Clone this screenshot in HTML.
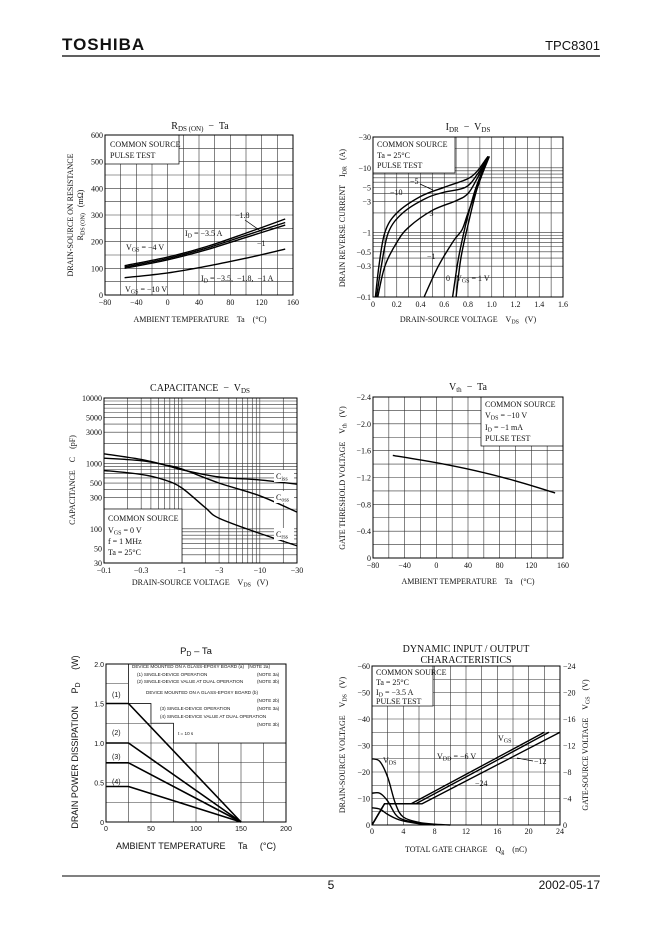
<!DOCTYPE html>
<html><head><meta charset="utf-8">
<style>
html,body{margin:0;padding:0;background:#fff;}
svg{display:block;}
text{white-space:pre;}
.s{font-family:"Liberation Serif",serif;font-size:8px;fill:#111;}
.ss{font-family:"Liberation Sans",sans-serif;fill:#111;}
.t{font-family:"Liberation Serif",serif;font-size:10px;fill:#111;}
</style></head>
<body>
<svg id="page" width="662" height="936" viewBox="0 0 662 936" xmlns="http://www.w3.org/2000/svg">
<rect width="662" height="936" fill="#fff"/>
<text x="62" y="50" class="ss" font-size="17" font-weight="bold" letter-spacing="1">TOSHIBA</text>
<text x="600" y="50" class="ss" font-size="13" text-anchor="end">TPC8301</text>
<line x1="62" y1="56" x2="600" y2="56" stroke="#000" stroke-width="1.2"/>
<line x1="62" y1="876" x2="600" y2="876" stroke="#000" stroke-width="1"/>
<text x="331" y="889" class="ss" font-size="12" text-anchor="middle">5</text>
<text x="600" y="889" class="ss" font-size="12" text-anchor="end">2002-05-17</text>

<g id="layer"></g>

<text x="200" y="129" class="t" text-anchor="middle">R<tspan font-size="7" dy="2">DS (ON)</tspan><tspan dy="-2">  −  Ta</tspan></text>
<text x="200" y="322" class="s" font-size="7.5" text-anchor="middle">AMBIENT TEMPERATURE    Ta    (°C)</text>
<text class="s" font-size="7.5" text-anchor="middle" transform="translate(73,215) rotate(-90)">DRAIN-SOURCE ON RESISTANCE</text>
<text class="s" font-size="7.5" text-anchor="middle" transform="translate(83,215) rotate(-90)">R<tspan font-size="6" dy="1.5">DS (ON)</tspan><tspan dy="-1.5">   (mΩ)</tspan></text>

<text x="468" y="130" class="t" text-anchor="middle">I<tspan font-size="7" dy="2">DR</tspan><tspan dy="-2">  −  V</tspan><tspan font-size="7" dy="2">DS</tspan></text>
<text x="468" y="322" class="s" font-size="7.5" text-anchor="middle">DRAIN-SOURCE VOLTAGE    V<tspan font-size="6" dy="1.5">DS</tspan><tspan dy="-1.5">   (V)</tspan></text>
<text class="s" font-size="7.5" text-anchor="middle" transform="translate(345,218) rotate(-90)">DRAIN REVERSE CURRENT    I<tspan font-size="6" dy="1.5">DR</tspan><tspan dy="-1.5">   (A)</tspan></text>

<text x="200" y="391" class="t" text-anchor="middle">CAPACITANCE  −  V<tspan font-size="7" dy="2">DS</tspan></text>
<text x="200" y="585" class="s" font-size="7.5" text-anchor="middle">DRAIN-SOURCE VOLTAGE    V<tspan font-size="6" dy="1.5">DS</tspan><tspan dy="-1.5">   (V)</tspan></text>
<text class="s" font-size="7.5" text-anchor="middle" transform="translate(75,480) rotate(-90)">CAPACITANCE    C    (pF)</text>

<text x="468" y="390" class="t" text-anchor="middle">V<tspan font-size="7" dy="2">th</tspan><tspan dy="-2">  −  Ta</tspan></text>
<text x="468" y="584" class="s" font-size="7.5" text-anchor="middle">AMBIENT TEMPERATURE    Ta    (°C)</text>
<text class="s" font-size="7.5" text-anchor="middle" transform="translate(345,478) rotate(-90)">GATE THRESHOLD VOLTAGE    V<tspan font-size="6" dy="1.5">th</tspan><tspan dy="-1.5">   (V)</tspan></text>

<text x="196" y="654" class="ss" font-size="9.5" text-anchor="middle">P<tspan font-size="7" dy="2">D</tspan><tspan dy="-2"> – Ta</tspan></text>
<text x="196" y="849" class="ss" font-size="9" text-anchor="middle">AMBIENT TEMPERATURE     Ta     (°C)</text>
<text class="ss" font-size="9" text-anchor="middle" transform="translate(78,742) rotate(-90)">DRAIN POWER DISSIPATION     P<tspan font-size="7" dy="2">D</tspan><tspan dy="-2">     (W)</tspan></text>

<text x="466" y="652" class="t" text-anchor="middle">DYNAMIC INPUT / OUTPUT</text>
<text x="466" y="663" class="t" text-anchor="middle">CHARACTERISTICS</text>
<text x="466" y="852" class="s" font-size="7.5" text-anchor="middle">TOTAL GATE CHARGE    Q<tspan font-size="6" dy="1.5">g</tspan><tspan dy="-1.5">    (nC)</tspan></text>
<text class="s" font-size="7.5" text-anchor="middle" transform="translate(345,745) rotate(-90)">DRAIN-SOURCE VOLTAGE    V<tspan font-size="6" dy="1.5">DS</tspan><tspan dy="-1.5">   (V)</tspan></text>
<text class="s" font-size="7.5" text-anchor="middle" transform="translate(588,745) rotate(-90)">GATE-SOURCE VOLTAGE    V<tspan font-size="6" dy="1.5">GS</tspan><tspan dy="-1.5">   (V)</tspan></text>
</svg>

<script>
const c1Temps = [-55, 0, 50, 100, 150];
const c1Vgs4Id35 = [110, 142, 182, 232, 285];
const c1Vgs4Id18 = [105, 137, 176, 224, 272];
const c1Vgs4Id1 = [100, 132, 170, 216, 262];
const c1Vgs10 = [65, 83, 108, 138, 172];
const c1XTicks = [-80, -40, 0, 40, 80, 120, 160];
const c1YTicks = [0, 100, 200, 300, 400, 500, 600];

const c2Vds10 = [0.02, 0.05, 0.1, 0.2, 0.4, 0.6, 0.8, 0.88, 0.95, 0.97];
const c2Idr10 = [0.1, 0.3, 1, 2, 3.6, 5, 6.8, 9, 13.5, 15];
const c2Vds5 = [0.03, 0.07, 0.13, 0.25, 0.45, 0.6, 0.78, 0.88, 0.97];
const c2Idr5 = [0.1, 0.3, 1, 2, 3.4, 4.2, 5, 8, 15];
const c2Vds3 = [0.04, 0.1, 0.2, 0.3, 0.5, 0.7, 0.8, 0.88, 0.97];
const c2Idr3 = [0.1, 0.3, 0.7, 1.2, 2.2, 3.1, 4, 7, 15];
const c2Vds1 = [0.43, 0.55, 0.68, 0.75, 0.8, 0.88, 0.97];
const c2Idr1 = [0.1, 0.3, 0.75, 1.1, 2, 5, 15];
const c2Vds0 = [0.67, 0.72, 0.78, 0.86, 0.97];
const c2Idr0 = [0.1, 0.4, 1.3, 4.5, 15];
const c2VdsP1 = [0.7, 0.74, 0.8, 0.88, 0.98];
const c2IdrP1 = [0.1, 0.4, 1.3, 5, 15];
const c2XTicks = [0, 0.2, 0.4, 0.6, 0.8, 1.0, 1.2, 1.4, 1.6];
const c2XLabels = ["0", "0.2", "0.4", "0.6", "0.8", "1.0", "1.2", "1.4", "1.6"];
const c2YTicks = [30, 10, 5, 3, 1, 0.5, 0.3, 0.1];
const c2YLabels = ["−30", "−10", "−5", "−3", "−1", "−0.5", "−0.3", "−0.1"];

const c3VdsCiss = [0.1, 0.3, 0.6, 1, 3, 10, 30];
const c3Ciss = [1400, 1150, 950, 800, 620, 560, 480];
const c3VdsCoss = [0.1, 0.3, 0.6, 1, 3, 10, 30];
const c3Coss = [1200, 1100, 950, 820, 500, 320, 180];
const c3VdsCrss = [0.1, 0.3, 0.6, 1, 2, 3, 10, 30];
const c3Crss = [780, 680, 560, 420, 210, 145, 85, 55];
const c3XTicks = [0.1, 0.3, 1, 3, 10, 30];
const c3XLabels = ["−0.1", "−0.3", "−1", "−3", "−10", "−30"];
const c3YTicks = [30, 50, 100, 300, 500, 1000, 3000, 5000, 10000];

const c4Temps = [-55, 0, 50, 100, 150];
const c4Vth = [1.53, 1.42, 1.30, 1.15, 0.97];
const c4XTicks = [-80, -40, 0, 40, 80, 120, 160];
const c4YTicks = [0, 0.4, 0.8, 1.2, 1.6, 2.0, 2.4];
const c4YLabels = ["0", "−0.4", "−0.8", "−1.2", "−1.6", "−2.0", "−2.4"];

const c5Ta = [0, 25, 150];
const c5Pd1 = [1.5, 1.5, 0];
const c5Pd2 = [1.0, 1.0, 0];
const c5Pd3 = [0.75, 0.75, 0];
const c5Pd4 = [0.45, 0.45, 0];
const c5XTicks = [0, 50, 100, 150, 200];
const c5YTicks = [0, 0.5, 1.0, 1.5, 2.0];
const c5YLabels = ["0", "0.5", "1.0", "1.5", "2.0"];

const c6QgVds24 = [0, 1, 2, 3, 4, 6, 8, 10];
const c6Vds24 = [25, 24, 18, 8, 3, 1, 0.3, 0];
const c6QgVds12 = [0, 1, 2, 3, 4, 6, 8];
const c6Vds12 = [12, 12, 9, 4, 2, 0.7, 0];
const c6QgVds6 = [0, 1, 2, 3, 4, 6, 8];
const c6Vds6 = [6.5, 6, 4, 2.5, 1.5, 0.5, 0];
const c6QgVgs6 = [0, 1.6, 5, 22];
const c6Vgs6 = [0, 3.2, 3.2, 14];
const c6QgVgs12 = [0, 1.6, 5.6, 22.6];
const c6Vgs12 = [0, 3.2, 3.2, 14];
const c6QgVgs24 = [0, 1.6, 6.4, 24];
const c6Vgs24 = [0, 3.2, 3.2, 14];
const c6XTicks = [0, 4, 8, 12, 16, 20, 24];
const c6YTicks = [0, 10, 20, 30, 40, 50, 60];
const c6Y2Ticks = [0, 4, 8, 12, 16, 20, 24];

const NS = "http://www.w3.org/2000/svg";
const layer = document.getElementById("layer");

function el(tag, attrs, name, parent) {
  const e = document.createElementNS(NS, tag);
  for (const k in attrs) e.setAttribute(k, attrs[k]);
  
  
  (parent || layer).appendChild(e);
  return e;
}
function txt(x, y, s, name, anchor, cls, size) {
  const e = el("text", {x: x, y: y, "text-anchor": anchor || "start", "class": cls || "s"}, name);
  if (size) e.setAttribute("font-size", size);
  e.textContent = s;
  return e;
}
function lin(d0, d1, r0, r1) { return v => r0 + (v - d0) / (d1 - d0) * (r1 - r0); }
function lg(d0, d1, r0, r1) { const a = Math.log10(d0), b = Math.log10(d1); return v => r0 + (Math.log10(v) - a) / (b - a) * (r1 - r0); }
function smooth(p) {
  let d = "M" + p[0][0].toFixed(1) + "," + p[0][1].toFixed(1);
  for (let i = 0; i < p.length - 1; i++) {
    const p0 = p[i - 1] || p[i], p1 = p[i], p2 = p[i + 1], p3 = p[i + 2] || p2;
    const c1x = p1[0] + (p2[0] - p0[0]) / 6, c1y = p1[1] + (p2[1] - p0[1]) / 6;
    const c2x = p2[0] - (p3[0] - p1[0]) / 6, c2y = p2[1] - (p3[1] - p1[1]) / 6;
    d += " C" + c1x.toFixed(1) + "," + c1y.toFixed(1) + " " + c2x.toFixed(1) + "," + c2y.toFixed(1) + " " + p2[0].toFixed(1) + "," + p2[1].toFixed(1);
  }
  return d;
}
function curve(xs, ys, sx, sy, name, sm, w) {
  const pts = xs.map((x, i) => [sx(x), sy(ys[i])]);
  const d = sm === false ? "M" + pts.map(p => p[0].toFixed(1) + "," + p[1].toFixed(1)).join(" L") : smooth(pts);
  el("path", {d: d, fill: "none", stroke: "#000", "stroke-width": w || 1.4, "stroke-linejoin": "round"}, name);
}
function vgrid(vals, sx, y0, y1, name) { vals.forEach(v => el("line", {x1: sx(v), y1: y0, x2: sx(v), y2: y1, stroke: "#333", "stroke-width": 0.6}, name)); }
function hgrid(vals, sy, x0, x1, name) { vals.forEach(v => el("line", {x1: x0, y1: sy(v), x2: x1, y2: sy(v), stroke: "#333", "stroke-width": 0.6}, name)); }
function frame(x0, y0, x1, y1, name) { el("rect", {x: x0, y: y0, width: x1 - x0, height: y1 - y0, fill: "none", stroke: "#000", "stroke-width": 1}, name); }
function box(x, y, w, h, name) { el("rect", {x: x, y: y, width: w, height: h, fill: "#fff", stroke: "#000", "stroke-width": 0.7}, name); }
function range(a, b, s) { const r = []; for (let v = a; v <= b + 1e-9; v += s) r.push(+v.toFixed(6)); return r; }
function logMinor(d0, d1) { const r = []; for (let e = Math.floor(Math.log10(d0)); e <= Math.ceil(Math.log10(d1)); e++) for (let m = 1; m <= 9; m++) { const v = m * Math.pow(10, e); if (v >= d0 * 0.999 && v <= d1 * 1.001) r.push(v); } return r; }
function fmtNeg(v) { return v === 0 ? "0" : (v < 0 ? "−" + Math.abs(v) : "" + v); }

(function () {
  const X0 = 105, X1 = 293, Y0 = 135, Y1 = 295;
  const sx = lin(-80, 160, X0, X1), sy = lin(0, 600, Y1, Y0);
  vgrid(range(-80, 160, 20), sx, Y0, Y1, "c1-grid-x");
  hgrid(range(0, 600, 50), sy, X0, X1, "c1-grid-y");
  box(X0, Y0, 74, 29, "c1-note-box");
  txt(110, 147, "COMMON SOURCE", "c1-note-1");
  txt(110, 158, "PULSE TEST", "c1-note-2");
  frame(X0, Y0, X1, Y1, "c1-frame");
  c1XTicks.forEach(v => txt(sx(v), Y1 + 10, fmtNeg(v), "c1-x-tick", "middle"));
  c1YTicks.forEach(v => txt(X0 - 2, sy(v) + 3, "" + v, "c1-y-tick", "end"));
  curve(c1Temps, c1Vgs4Id35, sx, sy, "c1-curve-vgs4-id3.5");
  curve(c1Temps, c1Vgs4Id18, sx, sy, "c1-curve-vgs4-id1.8");
  curve(c1Temps, c1Vgs4Id1, sx, sy, "c1-curve-vgs4-id1");
  curve(c1Temps, c1Vgs10, sx, sy, "c1-curve-vgs10");
  el("line", {x1: 245, y1: 220, x2: 262, y2: 232, stroke: "#000", "stroke-width": 0.7}, "c1-arrow");
  txt(235, 218, "−1.8", "c1-label-1.8");
  txt(185, 236, "I", "c1-label-id").innerHTML = 'I<tspan font-size="6" dy="1.5">D</tspan><tspan dy="-1.5"> = −3.5 A</tspan>';
  txt(257, 246, "−1", "c1-label-1");
  txt(126, 250, "V", "c1-label-vgs4").innerHTML = 'V<tspan font-size="6" dy="1.5">GS</tspan><tspan dy="-1.5"> = −4 V</tspan>';
  txt(201, 281, "I", "c1-label-id-all").innerHTML = 'I<tspan font-size="6" dy="1.5">D</tspan><tspan dy="-1.5"> = −3.5,  −1.8,  −1 A</tspan>';
  txt(125, 292, "V", "c1-label-vgs10").innerHTML = 'V<tspan font-size="6" dy="1.5">GS</tspan><tspan dy="-1.5"> = −10 V</tspan>';
})();

(function () {
  const X0 = 373, X1 = 563, Y0 = 137, Y1 = 297;
  const sx = lin(0, 1.6, X0, X1), sy = lg(0.1, 30, Y1, Y0);
  vgrid(range(0, 1.6, 0.1), sx, Y0, Y1, "c2-grid-x");
  hgrid(logMinor(0.1, 30), sy, X0, X1, "c2-grid-y");
  box(X0, Y0, 82, 36, "c2-note-box");
  txt(377, 147, "COMMON SOURCE", "c2-note-1");
  txt(377, 158, "Ta = 25°C", "c2-note-2");
  txt(377, 168, "PULSE TEST", "c2-note-3");
  frame(X0, Y0, X1, Y1, "c2-frame");
  c2XTicks.forEach((v, i) => txt(sx(v), Y1 + 10, c2XLabels[i], "c2-x-tick", "middle"));
  c2YTicks.forEach((v, i) => txt(X0 - 2, sy(v) + 3, c2YLabels[i], "c2-y-tick", "end"));
  curve(c2Vds10, c2Idr10, sx, sy, "c2-curve-vgs-10");
  curve(c2Vds5, c2Idr5, sx, sy, "c2-curve-vgs-5");
  curve(c2Vds3, c2Idr3, sx, sy, "c2-curve-vgs-3");
  curve(c2Vds1, c2Idr1, sx, sy, "c2-curve-vgs-1");
  curve(c2Vds0, c2Idr0, sx, sy, "c2-curve-vgs0");
  curve(c2VdsP1, c2IdrP1, sx, sy, "c2-curve-vgs1");
  el("line", {x1: 420, y1: 184, x2: 433, y2: 190, stroke: "#000", "stroke-width": 0.7}, "c2-arrow");
  txt(410, 184, "−5", "c2-label-5");
  txt(390, 195, "−10", "c2-label-10");
  txt(425, 216, "−3", "c2-label-3");
  txt(427, 259, "−1", "c2-label-1");
  txt(446, 281, "0", "c2-label-0");
  txt(456, 281, "V", "c2-label-vgs").innerHTML = 'V<tspan font-size="6" dy="1.5">GS</tspan><tspan dy="-1.5"> = 1 V</tspan>';
})();

(function () {
  const X0 = 104, X1 = 297, Y0 = 398, Y1 = 563;
  const sx = lg(0.1, 30, X0, X1), sy = lg(30, 10000, Y1, Y0);
  vgrid(logMinor(0.1, 30), sx, Y0, Y1, "c3-grid-x");
  hgrid(logMinor(30, 10000), sy, X0, X1, "c3-grid-y");
  box(X0, 509, 78, 54, "c3-note-box");
  txt(108, 521, "COMMON SOURCE", "c3-note-1");
  txt(108, 533, "V", "c3-note-2").innerHTML = 'V<tspan font-size="6" dy="1.5">GS</tspan><tspan dy="-1.5"> = 0 V</tspan>';
  txt(108, 544, "f = 1 MHz", "c3-note-3");
  txt(108, 555, "Ta = 25°C", "c3-note-4");
  frame(X0, Y0, X1, Y1, "c3-frame");
  c3XTicks.forEach((v, i) => txt(sx(v), Y1 + 10, c3XLabels[i], "c3-x-tick", "middle"));
  c3YTicks.forEach(v => txt(X0 - 2, sy(v) + 3, "" + v, "c3-y-tick", "end"));
  curve(c3VdsCiss, c3Ciss, sx, sy, "c3-curve-ciss");
  curve(c3VdsCoss, c3Coss, sx, sy, "c3-curve-coss");
  curve(c3VdsCrss, c3Crss, sx, sy, "c3-curve-crss");
  el("rect", {x: 274, y: 470, width: 20, height: 12, fill: "#fff"}, "c3-label-bg-ciss");
  txt(276, 479, "C", "c3-label-ciss").innerHTML = 'C<tspan font-size="6" dy="1.5">iss</tspan>';
  el("rect", {x: 274, y: 491, width: 20, height: 12, fill: "#fff"}, "c3-label-bg-coss");
  txt(276, 500, "C", "c3-label-coss").innerHTML = 'C<tspan font-size="6" dy="1.5">oss</tspan>';
  el("rect", {x: 274, y: 528, width: 20, height: 12, fill: "#fff"}, "c3-label-bg-crss");
  txt(276, 537, "C", "c3-label-crss").innerHTML = 'C<tspan font-size="6" dy="1.5">rss</tspan>';
})();

(function () {
  const X0 = 373, X1 = 563, Y0 = 397, Y1 = 558;
  const sx = lin(-80, 160, X0, X1), sy = lin(0, 2.4, Y1, Y0);
  vgrid(range(-80, 160, 20), sx, Y0, Y1, "c4-grid-x");
  hgrid(range(0, 2.4, 0.2), sy, X0, X1, "c4-grid-y");
  box(481, Y0, 82, 49, "c4-note-box");
  txt(485, 407, "COMMON SOURCE", "c4-note-1");
  txt(485, 418, "V", "c4-note-2").innerHTML = 'V<tspan font-size="6" dy="1.5">DS</tspan><tspan dy="-1.5"> = −10 V</tspan>';
  txt(485, 430, "I", "c4-note-3").innerHTML = 'I<tspan font-size="6" dy="1.5">D</tspan><tspan dy="-1.5"> = −1 mA</tspan>';
  txt(485, 441, "PULSE TEST", "c4-note-4");
  frame(X0, Y0, X1, Y1, "c4-frame");
  c4XTicks.forEach(v => txt(sx(v), Y1 + 10, fmtNeg(v), "c4-x-tick", "middle"));
  c4YTicks.forEach((v, i) => txt(X0 - 2, sy(v) + 3, c4YLabels[i], "c4-y-tick", "end"));
  curve(c4Temps, c4Vth, sx, sy, "c4-curve-vth");
})();

(function () {
  const X0 = 106, X1 = 286, Y0 = 664, Y1 = 822;
  const sx = lin(0, 200, X0, X1), sy = lin(0, 2.0, Y1, Y0);
  vgrid(range(0, 200, 25), sx, Y0, Y1, "c5-grid-x");
  hgrid(range(0, 2.0, 0.25), sy, X0, X1, "c5-grid-y");
  const st = [[25, 2.0], [25, 1.75], [25, 1.5], [50, 1.5], [50, 1.25], [75, 1.25], [75, 1.0], [200, 1.0], [200, 2.0]];
  el("polygon", {points: st.map(p => sx(p[0]) + "," + sy(p[1])).join(" "), fill: "#fff", stroke: "#000", "stroke-width": 0.7}, "c5-note-box");
  el("line", {x1: X0, y1: sy(1.75), x2: sx(25), y2: sy(1.75), stroke: "#333", "stroke-width": 0.6}, "c5-grid-step");
  frame(X0, Y0, X1, Y1, "c5-frame");
  const notes = [
    [132, 668, "DEVICE MOUNTED ON A GLASS-EPOXY BOARD (a)   (NOTE 2a)"],
    [137, 676, "(1) SINGLE-DEVICE OPERATION"], [257, 676, "(NOTE 3a)"],
    [137, 683, "(2) SINGLE-DEVICE VALUE AT DUAL OPERATION"], [257, 683, "(NOTE 3b)"],
    [146, 694, "DEVICE MOUNTED ON A GLASS-EPOXY BOARD (b)"],
    [257, 702, "(NOTE 2b)"],
    [160, 710, "(3) SINGLE-DEVICE OPERATION"], [257, 710, "(NOTE 3a)"],
    [160, 718, "(4) SINGLE-DEVICE VALUE AT DUAL OPERATION"],
    [257, 726, "(NOTE 3b)"],
    [178, 735, "t = 10 s"]
  ];
  notes.forEach(n => txt(n[0], n[1], n[2], "c5-note-text", "start", "ss", 4.6));
  c5XTicks.forEach(v => txt(sx(v), Y1 + 9, "" + v, "c5-x-tick", "middle", "ss", 7));
  c5YTicks.forEach((v, i) => txt(X0 - 2, sy(v) + 3, c5YLabels[i], "c5-y-tick", "end", "ss", 7));
  curve(c5Ta, c5Pd1, sx, sy, "c5-curve-1", false, 1.6);
  curve(c5Ta, c5Pd2, sx, sy, "c5-curve-2", false, 1.6);
  curve(c5Ta, c5Pd3, sx, sy, "c5-curve-3", false, 1.6);
  curve(c5Ta, c5Pd4, sx, sy, "c5-curve-4", false, 1.6);
  txt(112, 697, "(1)", "c5-label-1", "start", "ss", 7);
  txt(112, 735, "(2)", "c5-label-2", "start", "ss", 7);
  txt(112, 759, "(3)", "c5-label-3", "start", "ss", 7);
  txt(112, 784, "(4)", "c5-label-4", "start", "ss", 7);
})();

(function () {
  const X0 = 372, X1 = 560, Y0 = 666, Y1 = 825;
  const sx = lin(0, 24, X0, X1), sy = lin(0, 60, Y1, Y0), sy2 = lin(0, 24, Y1, Y0);
  vgrid(range(0, 24, 2), sx, Y0, Y1, "c6-grid-x");
  hgrid(range(0, 60, 5), sy, X0, X1, "c6-grid-y");
  box(X0, Y0, 61, 40, "c6-note-box");
  txt(376, 675, "COMMON SOURCE", "c6-note-1");
  txt(376, 685, "Ta = 25°C", "c6-note-2");
  txt(376, 695, "I", "c6-note-3").innerHTML = 'I<tspan font-size="6" dy="1.5">D</tspan><tspan dy="-1.5"> = −3.5 A</tspan>';
  txt(376, 704, "PULSE TEST", "c6-note-4");
  frame(X0, Y0, X1, Y1, "c6-frame");
  c6XTicks.forEach(v => txt(sx(v), Y1 + 9, "" + v, "c6-x-tick", "middle"));
  c6YTicks.forEach(v => txt(X0 - 2, sy(v) + 3, fmtNeg(-v), "c6-y-tick-left", "end"));
  c6Y2Ticks.forEach(v => txt(X1 + 3, sy2(v) + 3, fmtNeg(-v), "c6-y-tick-right", "start"));
  curve(c6QgVds24, c6Vds24, sx, sy, "c6-curve-vds-24");
  curve(c6QgVds12, c6Vds12, sx, sy, "c6-curve-vds-12");
  curve(c6QgVds6, c6Vds6, sx, sy, "c6-curve-vds-6");
  curve(c6QgVgs6, c6Vgs6, sx, sy2, "c6-curve-vgs-6", false);
  curve(c6QgVgs12, c6Vgs12, sx, sy2, "c6-curve-vgs-12", false);
  curve(c6QgVgs24, c6Vgs24, sx, sy2, "c6-curve-vgs-24", false);
  el("line", {x1: 517, y1: 758, x2: 533, y2: 761, stroke: "#000", "stroke-width": 0.7}, "c6-arrow");
  txt(498, 741, "V", "c6-label-vgs").innerHTML = 'V<tspan font-size="6" dy="1.5">GS</tspan>';
  txt(437, 759, "V", "c6-label-vdd").innerHTML = 'V<tspan font-size="6" dy="1.5">DD</tspan><tspan dy="-1.5"> = −6 V</tspan>';
  txt(534, 764, "−12", "c6-label-12");
  txt(475, 786, "−24", "c6-label-24");
  txt(383, 763, "V", "c6-label-vds").innerHTML = 'V<tspan font-size="6" dy="1.5">DS</tspan>';
})();
</script>
</body></html>
